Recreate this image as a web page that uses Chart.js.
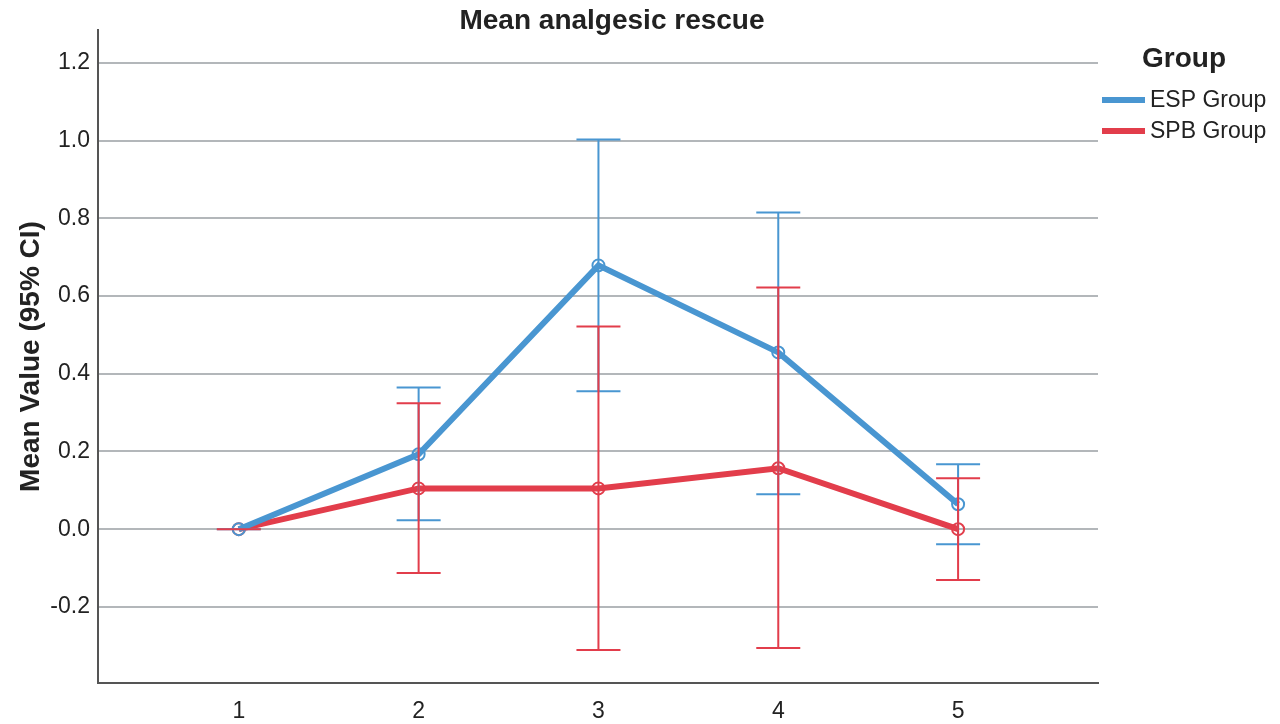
<!DOCTYPE html>
<html>
<head>
<meta charset="utf-8">
<script src="https://cdn.jsdelivr.net/npm/chart.js@4.4.0/dist/chart.umd.min.js"></script>
<style>
  body { margin: 0; background: #fff; }
  #wrap { width: 1280px; height: 724px; }
</style>
</head>
<body>
<div id="wrap"><canvas id="rescue"></canvas></div>
<script>
// chart Mean analgesic rescue
var timePoints = [1, 2, 3, 4, 5];
var espMean = [0, 0.193, 0.679, 0.455, 0.064];
var espLow = [0, 0.023, 0.355, 0.090, -0.039];
var espHigh = [0, 0.365, 1.003, 0.815, 0.167];
var spbMean = [0, 0.105, 0.105, 0.157, 0];
var spbLow = [0, -0.113, -0.311, -0.306, -0.131];
var spbHigh = [0, 0.324, 0.522, 0.622, 0.131];
var yTicks = [-0.2, 0, 0.2, 0.4, 0.6, 0.8, 1.0, 1.2];

var blue = '#4996d1';
var red = '#e23d4b';
var font = '"Liberation Sans", Arial, sans-serif';

function pts(ys) {
	return timePoints.map(function (x, i) { return { x: x, y: ys[i] }; });
}

// error bars + title + legend
var extras = {
	id: 'extras',
	afterDatasetsDraw: function (chart) {
		var ctx = chart.ctx;
		var xs = chart.scales.x, ys = chart.scales.y;
		var sets = [[espLow, espHigh, blue], [spbLow, spbHigh, red]];
		ctx.save();
		ctx.lineWidth = 2;
		sets.forEach(function (s) {
			ctx.strokeStyle = s[2];
			timePoints.forEach(function (t, i) {
				var px = xs.getPixelForValue(t);
				var lo = ys.getPixelForValue(s[0][i]);
				var hi = ys.getPixelForValue(s[1][i]);
				ctx.beginPath();
				ctx.moveTo(px, lo); ctx.lineTo(px, hi);
				ctx.moveTo(px - 22, lo); ctx.lineTo(px + 22, lo);
				ctx.moveTo(px - 22, hi); ctx.lineTo(px + 22, hi);
				ctx.stroke();
			});
		});
		ctx.restore();
	},
	afterDraw: function (chart) {
		var ctx = chart.ctx;
		ctx.save();
		ctx.fillStyle = '#222';
		ctx.textBaseline = 'middle';
		ctx.textAlign = 'center';
		ctx.font = 'bold 28px ' + font;
		ctx.fillText('Mean analgesic rescue', 612, 21);
		ctx.textAlign = 'left';
		ctx.font = 'bold 28px ' + font;
		ctx.fillText('Group', 1142, 59);
		ctx.font = '23px ' + font;
		var items = [['ESP Group', blue, 100], ['SPB Group', red, 131]];
		items.forEach(function (it) {
			ctx.fillStyle = it[1];
			ctx.fillRect(1102, it[2] - 3, 43, 6);
			ctx.fillStyle = '#222';
			ctx.fillText(it[0], 1150, it[2] + 1);
		});
		ctx.restore();
	}
};

var ctx = document.getElementById('rescue').getContext('2d');
var chart = new Chart(ctx, {
	type: 'line',
	data: {
		datasets: [{
			label: 'ESP Group',
			data: pts(espMean),
			borderColor: blue,
			borderWidth: 6,
			pointRadius: 6,
			pointBorderWidth: 2,
			pointBackgroundColor: 'rgba(0,0,0,0)',
			pointBorderColor: blue,
			tension: 0
		}, {
			label: 'SPB Group',
			data: pts(spbMean),
			borderColor: red,
			borderWidth: 6,
			pointRadius: 6,
			pointBorderWidth: 2,
			pointBackgroundColor: 'rgba(0,0,0,0)',
			pointBorderColor: red,
			tension: 0
		}]
	},
	options: {
		responsive: true,
		maintainAspectRatio: false,
		animation: false,
		layout: { padding: { left: 0, right: 182, top: 30, bottom: 0 } },
		plugins: { legend: { display: false }, tooltip: { enabled: false } },
		scales: {
			x: {
				type: 'linear',
				min: 0.217,
				max: 5.778,
				afterBuildTicks: function (s) { s.ticks = timePoints.map(function (v) { return { value: v }; }); },
				afterFit: function (s) { s.height = 41; },
				grid: { display: false, drawTicks: false },
				border: { color: '#555', width: 2 },
				ticks: { color: '#222', font: { family: font, size: 23 }, padding: 15, maxRotation: 0 }
			},
			y: {
				min: -0.396,
				max: 1.285,
				afterBuildTicks: function (s) { s.ticks = yTicks.map(function (v) { return { value: v }; }); },
				afterFit: function (s) { s.width = 98; },
				grid: { color: '#b3b7ba', lineWidth: 2, drawTicks: false },
				border: { color: '#555', width: 2 },
				ticks: {
					color: '#222',
					font: { family: font, size: 23 },
					padding: 8,
					callback: function (v) { return v.toFixed(1); }
				},
				title: {
					display: true,
					text: 'Mean Value (95% CI)',
					color: '#222',
					font: { family: font, size: 28, weight: 'bold' },
					padding: { top: 14, bottom: 0 }
				}
			}
		}
	},
	plugins: [extras]
});
</script>
</body>
</html>
